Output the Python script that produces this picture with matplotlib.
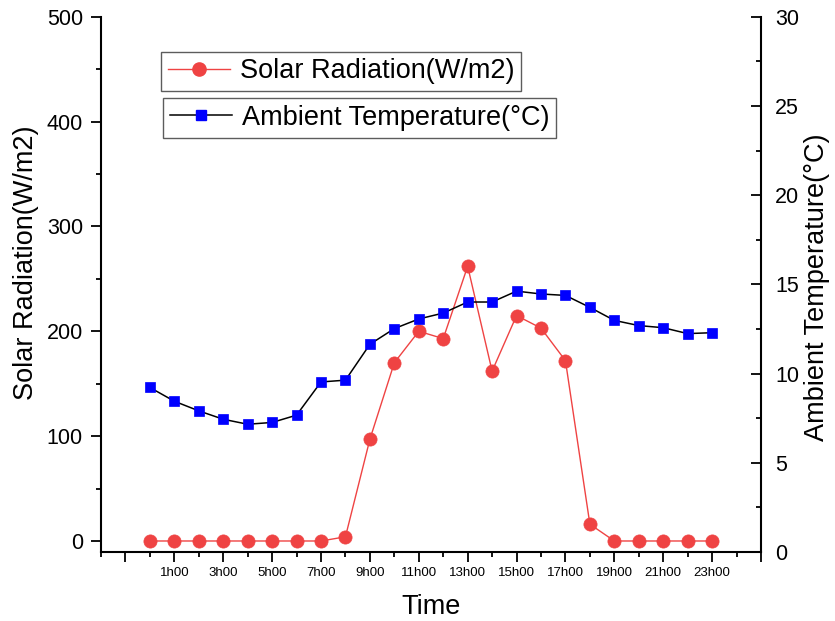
import matplotlib
matplotlib.use("Agg")
import matplotlib.pyplot as plt
from matplotlib.lines import Line2D

plt.rcParams['font.family'] = ['Liberation Sans', 'DejaVu Sans']

# Hourly measurements
hours = list(range(24))
solar_radiation = [0, 0, 0, 0, 0, 0, 0, 0, 4, 97, 170, 200, 193, 262, 162, 215,
                   203, 172, 16, 0, 0, 0, 0, 0]
ambient_temp = [9.22, 8.45, 7.91, 7.44, 7.16, 7.26, 7.67, 9.53, 9.63, 11.64,
                12.52, 13.06, 13.39, 14.01, 14.01, 14.62, 14.46, 14.38, 13.71,
                12.98, 12.69, 12.57, 12.24, 12.29]

major_hours = list(range(-1, 26, 2))
hour_labels = ['' if (h < 0 or h > 23) else f'{h}h00' for h in major_hours]

solar_name = 'Solar Radiation(W/m2)'
temp_name = 'Ambient Temperature(°C)'

red = '#EF4343'
blue = '#0000FF'

fig = plt.figure(figsize=(8.35, 6.21), dpi=100)
ax = fig.add_axes([101 / 835, 1 - 552 / 621, 660 / 835, (552 - 16.7) / 621])
ax2 = ax.twinx()

ax.plot(hours, solar_radiation, color=red, lw=1.0, marker='o', ms=9.5,
        mfc=red, mec=red, mew=0.5, zorder=3)
ax2.plot(hours, ambient_temp, color='black', lw=1.1, marker='s', ms=7.6,
         mfc=blue, mec=blue, mew=0.5, zorder=3)

ax.set_xlim(-2, 25)
ax.set_ylim(-10.5, 500)
ax2.set_ylim(0, 30)

# Spines
for a in (ax, ax2):
    a.spines['top'].set_visible(False)
    for s in a.spines.values():
        s.set_linewidth(1.5)
ax.spines['right'].set_visible(False)
ax2.spines['left'].set_visible(False)
ax2.spines['bottom'].set_visible(False)

# X ticks
ax.set_xticks(major_hours)
ax.set_xticklabels(hour_labels, fontsize=9.5)
ax.set_xticks(list(range(-2, 25, 2)), minor=True)
ax.tick_params(axis='x', which='major', direction='out', length=7, width=1.3, pad=4)
ax.tick_params(axis='x', which='minor', direction='out', length=3.5, width=1.3)

# Left Y ticks
ax.set_yticks([0, 100, 200, 300, 400, 500])
ax.set_yticks([50, 150, 250, 350, 450], minor=True)
ax.tick_params(axis='y', which='major', direction='out', length=7, width=1.3,
               labelsize=15.5, pad=6)
ax.tick_params(axis='y', which='minor', direction='out', length=3.5, width=1.3)

# Right Y ticks (pointing inward)
ax2.set_yticks([0, 5, 10, 15, 20, 25, 30])
ax2.set_yticks([2.5, 7.5, 12.5, 17.5, 22.5, 27.5], minor=True)
ax2.tick_params(axis='y', which='major', direction='in', length=7, width=1.3,
                labelsize=15.5, pad=10)
ax2.tick_params(axis='y', which='minor', direction='in', length=3.5, width=1.3)

# Axis labels
ax.set_xlabel('Time', fontsize=19.5)
ax.xaxis.label.set_verticalalignment('center')
ax.xaxis.set_label_coords(0.5, -0.103)

ax.set_ylabel(solar_name, fontsize=19.5)
ax.yaxis.label.set_verticalalignment('center')
ax.yaxis.set_label_coords(-0.114, 0.54)

ax2.set_ylabel(temp_name, fontsize=19.5)
ax2.yaxis.label.set_verticalalignment('center')
ax2.yaxis.set_label_coords(1.085, 0.495)

# Two separately framed legend entries
h1 = Line2D([], [], color=red, lw=1.0, marker='o', ms=9.5, mfc=red, mec=red)
h2 = Line2D([], [], color='black', lw=1.1, marker='s', ms=7.6, mfc=blue, mec=blue)

leg_kw = dict(fontsize=19.5, frameon=True, fancybox=False, handlelength=2.3,
              handletextpad=0.35, borderpad=0.25, borderaxespad=0.0,
              bbox_transform=fig.transFigure, loc='upper left')
leg1 = ax2.legend([h1], [solar_name], bbox_to_anchor=(161 / 835, 1 - 51.7 / 621), **leg_kw)
leg1.get_frame().set_edgecolor('#333333')
leg1.get_frame().set_linewidth(1.0)
ax2.add_artist(leg1)
leg2 = ax2.legend([h2], [temp_name], bbox_to_anchor=(163 / 835, 1 - 98 / 621), **leg_kw)
leg2.get_frame().set_edgecolor('#333333')
leg2.get_frame().set_linewidth(1.0)

fig.savefig('out.png', dpi=100)
